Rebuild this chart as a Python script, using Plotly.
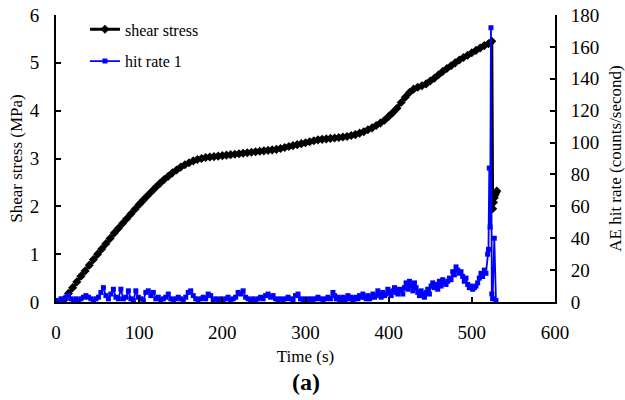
import plotly.graph_objects as go

# Shear stress (MPa) vs time (s)
shear_time = [10, 15, 20, 25, 30, 35, 40, 45, 50, 55, 60, 65, 70, 75, 80, 85, 90, 95,
              100, 105, 110, 115, 120, 125, 130, 135, 140, 145, 150, 155, 160, 165, 170,
              175, 180, 185, 190, 195, 200, 205, 210, 215, 220, 225, 230, 235, 240, 245,
              250, 255, 260, 265, 270, 275, 280, 285, 290, 295, 300, 305, 310, 315, 320,
              325, 330, 335, 340, 345, 350, 355, 360, 365, 370, 375, 380, 385, 390, 395,
              400, 405, 410, 415, 420, 425, 430, 435, 440, 445, 450, 455, 460, 465, 470,
              475, 480, 485, 490, 495, 500, 505, 510, 515, 520, 524, 525, 526, 527, 528,
              529, 530]
shear_stress = [0.05, 0.18, 0.30, 0.42, 0.54, 0.65, 0.77, 0.89, 1.00, 1.11, 1.22, 1.33,
                1.44, 1.54, 1.64, 1.74, 1.84, 1.94, 2.04, 2.13, 2.22, 2.31, 2.40, 2.48,
                2.56, 2.63, 2.70, 2.76, 2.82, 2.87, 2.91, 2.95, 2.98, 3.00, 3.02, 3.03,
                3.04, 3.05, 3.06, 3.07, 3.08, 3.09, 3.10, 3.11, 3.12, 3.13, 3.14, 3.15,
                3.16, 3.17, 3.18, 3.19, 3.21, 3.23, 3.25, 3.27, 3.29, 3.31, 3.33, 3.35,
                3.37, 3.39, 3.40, 3.41, 3.42, 3.43, 3.44, 3.45, 3.46, 3.48, 3.50, 3.53,
                3.56, 3.60, 3.64, 3.69, 3.74, 3.80, 3.88, 3.96, 4.05, 4.17, 4.28, 4.38,
                4.45, 4.49, 4.52, 4.56, 4.62, 4.68, 4.75, 4.82, 4.88, 4.94, 5.00, 5.06,
                5.11, 5.16, 5.21, 5.26, 5.31, 5.36, 5.40, 5.45, 1.95, 2.08, 2.18, 2.24,
                2.29, 2.32]

# AE hit rate (counts/second) vs time (s)
hit_time = [0, 3, 6, 9, 12, 15, 18, 21, 24, 27, 30, 33, 36, 39, 42, 45, 48, 51, 54, 57,
            60, 63, 66, 69, 72, 75, 78, 81, 84, 87, 90, 93, 96, 99, 102, 105, 108, 111,
            114, 117, 120, 123, 126, 129, 132, 135, 138, 141, 144, 147, 150, 153, 156,
            159, 162, 165, 168, 171, 174, 177, 180, 183, 186, 189, 192, 195, 198, 201,
            204, 207, 210, 213, 216, 219, 222, 225, 228, 231, 234, 237, 240, 243, 246,
            249, 252, 255, 258, 261, 264, 267, 270, 273, 276, 279, 282, 285, 288, 291,
            294, 297, 300, 303, 306, 309, 312, 315, 318, 321, 324, 327, 330,
            333, 335, 337, 339, 341, 343, 345, 347, 349, 351, 353, 355, 357, 359, 361,
            363, 365, 367, 369, 371, 373, 375, 377, 379, 381, 383, 385, 387, 389, 391,
            393, 395, 397, 399, 401, 403, 405, 407, 409, 411, 413, 415, 417, 419, 421,
            423, 425, 427, 429, 431, 433, 435, 437, 439, 441, 443, 445, 447, 449, 451,
            453, 455, 457, 459, 461, 463, 465, 467, 469, 471, 473, 475, 477, 479, 481,
            483, 485, 487, 489, 491, 493, 495, 497, 499, 501, 503, 505, 507, 509, 511,
            513, 515, 517, 519, 520, 521, 522, 523, 524, 525, 527, 529, 531]
hit_rate = [1, 0, 2, 1, 3, 4, 2, 1, 2, 1, 2, 3, 4, 3, 2, 1, 2, 3, 6, 9,
            4, 2, 5, 8, 3, 2, 8, 2, 3, 7, 2, 1, 7, 3, 2, 1, 6, 7,
            4, 6, 2, 3, 1, 2, 3, 5, 2, 1, 2, 3, 2, 1, 3,
            6, 7, 4, 2, 1, 2, 3, 2, 5, 4, 1, 2, 1, 2, 1,
            2, 3, 1, 2, 3, 6, 5, 7, 3, 2, 1, 2, 1, 2, 3,
            2, 4, 5, 3, 4, 2, 1, 2, 1, 2, 3, 2, 1, 4, 5,
            2, 1, 2, 1, 2, 1, 2, 3, 2, 1, 2, 3, 2,
            6, 4, 2, 3, 1, 2, 3, 1, 2, 4, 2, 3, 1, 2, 3,
            2, 4, 3, 5, 3, 2, 4, 2, 3, 5, 3, 4, 7, 5, 3,
            6, 4, 5, 8, 6, 4, 7, 9, 6, 5, 8, 7, 5, 9, 12,
            8, 13, 10, 7, 12, 9, 6, 4, 7, 5, 3, 6, 8, 5, 10,
            12, 9, 11, 8, 13, 10, 14, 12, 11, 13, 15, 14, 19, 17, 22,
            20, 18, 19, 16, 13, 15, 11, 9, 10, 8, 9, 10, 12, 15, 18,
            16, 20, 18, 30, 33, 84, 47, 172, 5, 2, 40, 1]

x_ticks = [0, 100, 200, 300, 400, 500, 600]

FONT = "Liberation Serif"

fig = go.Figure()
fig.add_trace(go.Scatter(
    x=shear_time, y=shear_stress, name="shear stress", mode="lines+markers",
    line=dict(color="black", width=3),
    marker=dict(symbol="diamond", size=7, color="black"),
    yaxis="y", legendgroup="a"))
fig.add_trace(go.Scatter(
    x=hit_time, y=hit_rate, name="hit rate 1", mode="lines+markers",
    line=dict(color="#0000FF", width=1.8),
    marker=dict(symbol="square", size=5, color="#0000FF"),
    yaxis="y2", legendgroup="b"))

axis_common = dict(showgrid=False, zeroline=False, showline=True, linecolor="black",
                   linewidth=2, ticks="inside", ticklen=5, tickwidth=1.5, automargin=False,
                   tickcolor="black", tickfont=dict(family=FONT, size=19, color="black"))

fig.update_layout(
    width=625, height=400,
    margin=dict(l=56, r=70, t=15, b=98, autoexpand=False),
    paper_bgcolor="white", plot_bgcolor="white",
    font=dict(family=FONT, color="black"),
    xaxis=dict(range=[0, 600], tickvals=x_ticks, ticklabelstandoff=12,
               title=dict(text="Time (s)", font=dict(family=FONT, size=17), standoff=8),
               **axis_common),
    yaxis=dict(range=[0, 6], dtick=1, ticklabelstandoff=11,
               title=dict(text="Shear stress (MPa)", font=dict(family=FONT, size=17), standoff=3),
               **axis_common),
    yaxis2=dict(range=[0, 180], dtick=20, overlaying="y", side="right", ticklabelstandoff=10,
                title=dict(text="AE hit rate (counts/second)", font=dict(family=FONT, size=17), standoff=18),
                **axis_common),
    legend=dict(x=0.058, y=1.009, xanchor="left", yanchor="top",
                bgcolor="rgba(0,0,0,0)", font=dict(family=FONT, size=16, color="black"),
                traceorder="grouped", tracegroupgap=8),
    showlegend=True,
)
fig.add_annotation(text="<b>(a)</b>", x=0.5, y=-0.28, xref="paper", yref="paper",
                   xanchor="center", yanchor="middle", showarrow=False,
                   font=dict(family=FONT, size=24, color="black"))

fig.write_html("out.html")
